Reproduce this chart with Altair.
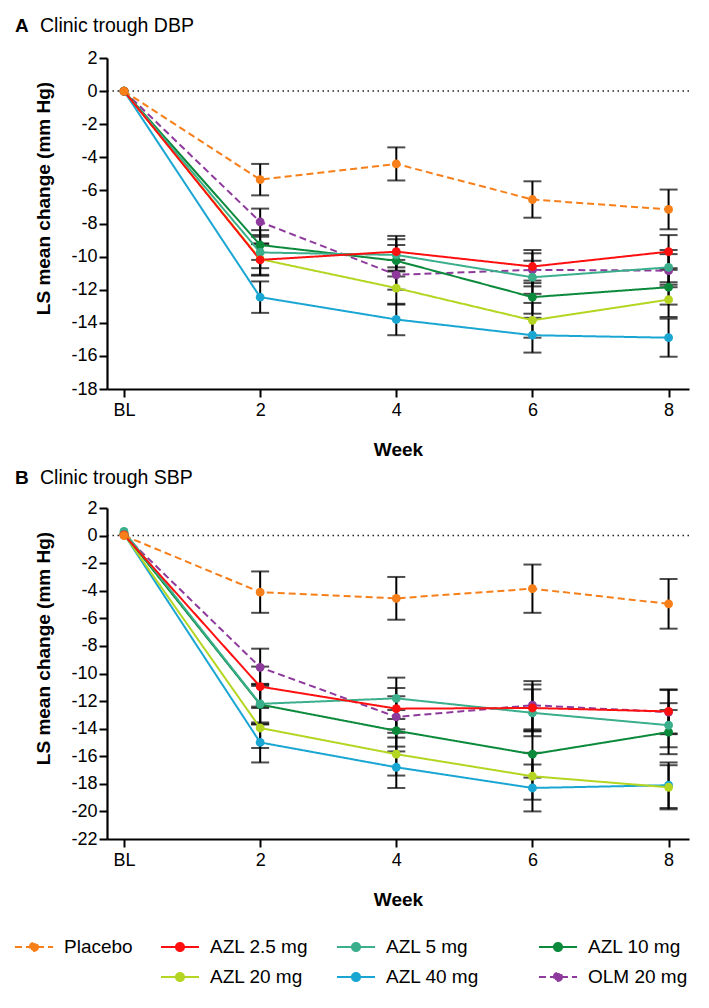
import altair as alt
import pandas as pd
import json

FONT = "Liberation Sans"

weeks = [0, 2, 4, 6, 8]
week_labels = ["BL", "2", "4", "6", "8"]
series = ["Placebo", "AZL 2.5 mg", "AZL 5 mg", "AZL 10 mg", "AZL 20 mg", "AZL 40 mg", "OLM 20 mg"]
colors = ["#F77F1A", "#FF1010", "#3BAF8C", "#0B8A3C", "#B4D622", "#1AA6D2", "#8E3A9C"]
dashed = [True, False, False, False, False, False, True]

panel_letters = ["A", "B"]
panel_titles = ["Clinic trough DBP", "Clinic trough SBP"]

dbp_mean = {
    "Placebo":    [0, -5.35, -4.4, -6.55, -7.15],
    "AZL 2.5 mg": [0, -10.2, -9.7, -10.6, -9.7],
    "AZL 5 mg":   [0, -9.75, -9.9, -11.25, -10.65],
    "AZL 10 mg":  [0, -9.3, -10.25, -12.45, -11.85],
    "AZL 20 mg":  [0, -10.15, -11.9, -13.85, -12.6],
    "AZL 40 mg":  [0, -12.45, -13.8, -14.75, -14.9],
    "OLM 20 mg":  [0, -7.9, -11.1, -10.8, -10.85],
}
dbp_se = {
    "Placebo":    [0, 0.95, 1.0, 1.1, 1.2],
    "AZL 2.5 mg": [0, 0.95, 0.95, 1.0, 1.0],
    "AZL 5 mg":   [0, 0.95, 0.95, 1.0, 1.05],
    "AZL 10 mg":  [0, 0.9, 0.95, 1.0, 1.05],
    "AZL 20 mg":  [0, 0.95, 1.0, 1.05, 1.05],
    "AZL 40 mg":  [0, 0.95, 0.95, 1.05, 1.15],
    "OLM 20 mg":  [0, 0.8, 0.9, 1.0, 1.0],
}
sbp_mean = {
    "Placebo":    [0, -4.1, -4.55, -3.85, -4.95],
    "AZL 2.5 mg": [0.05, -10.95, -12.55, -12.5, -12.75],
    "AZL 5 mg":   [0.3, -12.2, -11.8, -12.85, -13.75],
    "AZL 10 mg":  [0.15, -12.25, -14.15, -15.85, -14.25],
    "AZL 20 mg":  [0.1, -13.95, -15.85, -17.45, -18.25],
    "AZL 40 mg":  [0.1, -15.0, -16.8, -18.3, -18.1],
    "OLM 20 mg":  [0.05, -9.55, -13.15, -12.3, -12.8],
}
sbp_se = {
    "Placebo":    [0, 1.5, 1.55, 1.75, 1.8],
    "AZL 2.5 mg": [0, 1.45, 1.5, 1.7, 1.6],
    "AZL 5 mg":   [0, 1.45, 1.5, 1.7, 1.6],
    "AZL 10 mg":  [0, 1.45, 1.5, 1.7, 1.6],
    "AZL 20 mg":  [0, 1.45, 1.55, 1.7, 1.6],
    "AZL 40 mg":  [0, 1.45, 1.5, 1.7, 1.65],
    "OLM 20 mg":  [0, 1.35, 1.5, 1.75, 1.6],
}

# legend entries are laid out column by column; a blank slot keeps column 1 single
legend_domain = ["Placebo", " ", "AZL 2.5 mg", "AZL 20 mg", "AZL 5 mg", "AZL 40 mg",
                 "AZL 10 mg", "OLM 20 mg"]
col_of = dict(zip(series, colors))
dash_of = dict(zip(series, dashed))
legend_colors = [col_of.get(s, "transparent") for s in legend_domain]
legend_dash = [[7, 4] if dash_of.get(s, False) else [1, 0] for s in legend_domain]

color_scale = alt.Scale(domain=legend_domain, range=legend_colors)
dash_scale = alt.Scale(domain=legend_domain, range=legend_dash)

# symbol: horizontal line with a dot; 28px layout box, drawn 38px wide
w = 1.36
r = 0.29
sym_path = (f"M-{w},0L{w},0M{r},0A{r},{r},0,1,1,-{r},0A{r},{r},0,1,1,{r},0Z")

# widen the third legend column a little (invisible padding, zero-width end keeps it from trimming)
pad = "\u00a0" * 6 + "\u200b"
legend_label_expr = f"datum.label == 'AZL 40 mg' ? datum.label + '{pad}' : datum.label"

legend = alt.Legend(
    title=None, orient="none", legendX=-88, legendY=874, columns=4,
    symbolType=sym_path, symbolSize=784, symbolStrokeWidth=2, symbolOpacity=1,
    labelFont=FONT, labelFontSize=19, labelColor="black", labelOffset=15,
    columnPadding=23, rowPadding=5, labelExpr=legend_label_expr,
)


def make_df(means, ses):
    rows = []
    # later series first so that Placebo is drawn on top, as in the figure
    for s in reversed(series):
        for wk, m, e in zip(weeks, means[s], ses[s]):
            rows.append({"series": s, "week": wk, "mean": m, "lo": m - e, "hi": m + e,
                         "err": e})
    return pd.DataFrame(rows)


label_expr = (f"{json.dumps(week_labels)}[indexof({json.dumps(weeks)}, datum.value)]")


def panel(df, ymin, letter, title, title_dy):
    xenc = alt.X("week:Q",
                 scale=alt.Scale(domain=[-0.25, 8.3], nice=False, zero=False),
                 axis=alt.Axis(values=weeks, labelExpr=label_expr, title="Week",
                               titleFontWeight="bold", titlePadding=21, labelPadding=4))
    yaxis = alt.Axis(values=list(range(ymin, 3, 2)), labelExpr="'' + datum.value",
                     title="LS mean change (mm Hg)", titleFontWeight="bold",
                     titlePadding=17, titleY=140, labelPadding=2)
    yscale = alt.Scale(domain=[ymin, 2], nice=False, zero=False)

    base = alt.Chart(df)
    zero = alt.Chart(pd.DataFrame({"y": [0]})).mark_rule(
        color="#222", strokeWidth=1.5, strokeDash=[1.5, 3.5]
    ).encode(y=alt.Y("y:Q", scale=yscale, axis=yaxis))

    err = base.transform_filter("datum.err > 0").mark_errorbar(
        ticks=True, size=18, thickness=2, color="black"
    ).encode(x=xenc, y=alt.Y("lo:Q", scale=yscale, axis=yaxis, title="LS mean change (mm Hg)"),
             y2="hi:Q")

    lines = base.mark_line(strokeWidth=2).encode(
        x=xenc, y=alt.Y("mean:Q", scale=yscale, axis=yaxis),
        color=alt.Color("series:N", scale=color_scale, legend=legend),
        strokeDash=alt.StrokeDash("series:N", scale=dash_scale, legend=legend),
        order="week:Q",
    )
    pts = base.mark_circle(size=78, opacity=1).encode(
        x=xenc, y=alt.Y("mean:Q", scale=yscale, axis=yaxis),
        color=alt.Color("series:N", scale=color_scale, legend=legend),
    )
    lab = alt.Chart(pd.DataFrame({"t": [letter]})).mark_text(
        font=FONT, fontSize=19, fontWeight="bold", align="left", baseline="middle", color="black"
    ).encode(text="t:N", x=alt.value(-92), y=alt.value(title_dy))
    ttl = alt.Chart(pd.DataFrame({"t": [title]})).mark_text(
        font=FONT, fontSize=19.5, align="left", baseline="middle", color="black"
    ).encode(text="t:N", x=alt.value(-67), y=alt.value(title_dy))

    return alt.layer(zero, err, lines, pts, lab, ttl).properties(width=582, height=331)


chart = alt.vconcat(
    panel(make_df(dbp_mean, dbp_se), -18, panel_letters[0], panel_titles[0], -32),
    panel(make_df(sbp_mean, sbp_se), -22, panel_letters[1], panel_titles[1], -30),
    spacing=9,
).properties(
    padding={"left": 7, "top": 8, "right": 0, "bottom": 0},
    background="white",
).configure_view(stroke=None).configure_axis(
    grid=False, domainColor="black", domainWidth=2.2, tickColor="black", tickWidth=2,
    tickSize=8, labelFont=FONT, labelFontSize=18, labelColor="black",
    titleFont=FONT, titleFontSize=19, titleColor="black",
)

chart.save("out.html", embed_options={"renderer": "svg", "actions": False})
